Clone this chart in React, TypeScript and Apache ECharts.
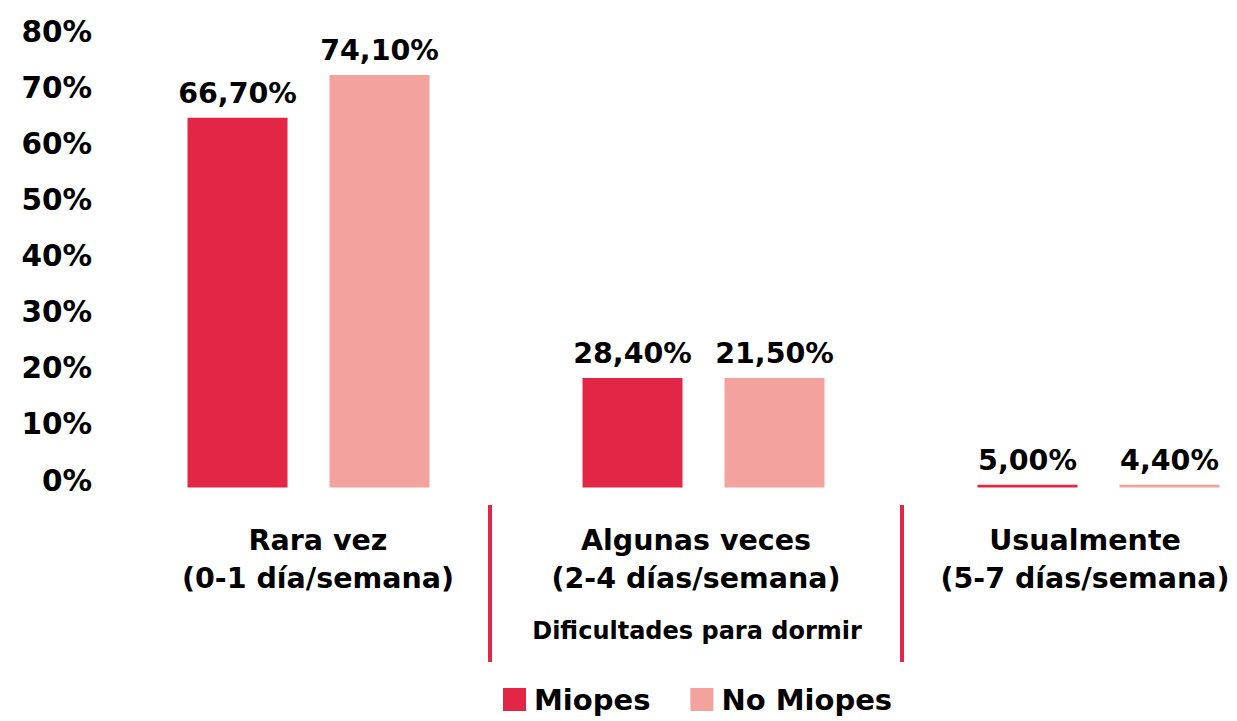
import React, { useEffect, useRef } from "react";
import * as echarts from "echarts";

const categories = ["Rara vez\n(0-1 día/semana)", "Algunas veces\n(2-4 días/semana)", "Usualmente\n(5-7 días/semana)"];
const seriesNames = ["Miopes", "No Miopes"];
// bar heights as drawn in the picture (%)
const miopesHeights = [65.9, 19.5, 0.5];
const noMiopesHeights = [73.5, 19.5, 0.5];
// value labels printed above bars
const miopesLabels = ["66,70%", "28,40%", "5,00%"];
const noMiopesLabels = ["74,10%", "21,50%", "4,40%"];
const yTicks = [0, 10, 20, 30, 40, 50, 60, 70, 80];
const axisTitle = "Dificultades para dormir";

const FONT = "DejaVu Sans";
const RED = "#e42646";
const PINK = "#f4a29d";
const CHART_W = 1300;
const GRID_LEFT = 111;

export default function App() {
  const ref = useRef<HTMLDivElement>(null);
  useEffect(() => {
    if (!ref.current) return;
    const chart = echarts.init(ref.current, null, { renderer: "svg" });
    const mkLabel = (labels: string[]) => ({
      show: true,
      position: "top",
      distance: 10,
      formatter: (p: any) => labels[p.dataIndex],
      fontFamily: FONT,
      fontWeight: "bold",
      fontSize: 28.5,
      color: "#000",
    });
    const catStyle = (pad: number[]) => ({
      fontFamily: FONT,
      fontWeight: "bold",
      fontSize: 28.5,
      lineHeight: 38,
      color: "#000",
      padding: pad,
    });
    chart.setOption({
      animation: false,
      textStyle: { fontFamily: FONT },
      grid: { left: GRID_LEFT, right: CHART_W - GRID_LEFT - 1185, top: 38.5, bottom: 233.5, containLabel: false },
      legend: {
        data: seriesNames,
        left: 498,
        bottom: 2,
        itemWidth: 23,
        itemHeight: 23,
        itemGap: 40,
        icon: "rect",
        textStyle: { fontFamily: FONT, fontWeight: "bold", fontSize: 29, color: "#000", padding: [0, 0, 0, 3] },
      },
      xAxis: {
        type: "category",
        data: categories,
        axisLine: { show: false },
        axisTick: { show: false },
        axisLabel: {
          margin: 34,
          color: "#000",
          formatter: (v: string, i: number) =>
            v
              .split("\n")
              .map((s) => "{c" + i + "|" + s + "}")
              .join("\n"),
          rich: {
            c0: catStyle([0, 0, 0, 19]),
            c1: catStyle([0, 15, 0, 0]),
            c2: catStyle([0, 27, 0, 0]),
          },
        },
        name: axisTitle,
        nameLocation: "middle",
        nameGap: 131,
        nameTextStyle: { fontFamily: FONT, fontWeight: "bold", fontSize: 24, color: "#000", padding: [0, 13, 0, 0] },
      },
      yAxis: {
        type: "value",
        min: 0,
        max: 80,
        interval: 10,
        splitLine: { show: false },
        axisLine: { show: false },
        axisTick: { show: false },
        axisLabel: {
          margin: 19,
          color: "#000",
          formatter: (v: number) => (yTicks.includes(v) ? "{t|" + v + "%}" : ""),
          rich: {
            t: {
              fontFamily: FONT,
              fontWeight: "bold",
              fontSize: 29.5,
              color: "#000",
              padding: [0, 0, 14, 0],
            },
          },
        },
      },
      series: [
        {
          name: seriesNames[0],
          type: "bar",
          data: miopesHeights,
          barWidth: 100,
          barGap: "42%",
          itemStyle: { color: RED },
          label: mkLabel(miopesLabels),
        },
        {
          name: seriesNames[1],
          type: "bar",
          data: noMiopesHeights,
          barWidth: 100,
          itemStyle: { color: PINK },
          label: mkLabel(noMiopesLabels),
        },
      ],
      graphic: [
        { type: "line", shape: { x1: 490, y1: 505, x2: 490, y2: 662 }, style: { stroke: RED, lineWidth: 4 } },
        { type: "line", shape: { x1: 902, y1: 505, x2: 902, y2: 662 }, style: { stroke: RED, lineWidth: 4 } },
      ],
    });
    return () => chart.dispose();
  }, []);
  return (
    <div style={{ position: "absolute", left: 0, top: 0, width: 1237, height: 721, overflow: "hidden", background: "#fff" }}>
      <div ref={ref} style={{ width: CHART_W, height: 721 }} />
    </div>
  );
}
